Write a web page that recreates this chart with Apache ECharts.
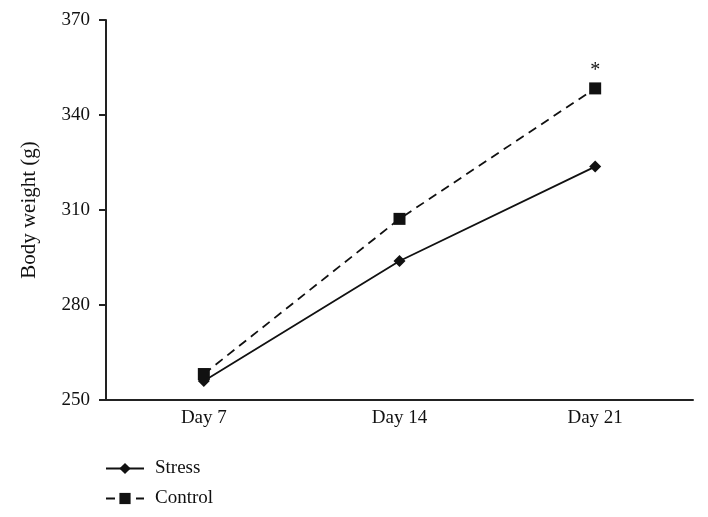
<!DOCTYPE html>
<html><head><meta charset="utf-8">
<script src="https://cdn.jsdelivr.net/npm/echarts@6/dist/echarts.min.js"></script>
<style>html,body{margin:0;padding:0;background:#fff}#c{width:708px;height:517px}</style>
</head><body><div id="c"></div>
<script>
const categories = ["Day 7", "Day 14", "Day 21"];
const stress = [256.0, 293.9, 323.7];
const control = [258.2, 307.2, 348.4];
const controlLabels = ["", "", "*"];
const yTicks = [250, 280, 310, 340, 370];

const font = "'Liberation Serif', 'DejaVu Serif', serif";
const chart = echarts.init(document.getElementById('c'));
chart.setOption({
  animation: false,
  textStyle: { fontFamily: font },
  grid: { left: 106, right: 15, top: 20, bottom: 117 },
  legend: {
    orient: 'vertical', left: 100, top: 454, itemGap: 11,
    itemWidth: 38, itemHeight: 14,
    textStyle: { fontFamily: font, fontSize: 19, color: '#111', padding: [0, 0, 0, 6] },
    data: ['Stress', 'Control']
  },
  xAxis: {
    type: 'category', data: categories, boundaryGap: true,
    axisLine: { lineStyle: { color: '#222', width: 2 } },
    axisTick: { show: false },
    axisLabel: { color: '#111', fontSize: 19, fontFamily: font, margin: 9 }
  },
  yAxis: {
    type: 'value', min: yTicks[0], max: yTicks[yTicks.length - 1], interval: 30,
    name: 'Body weight (g)', nameLocation: 'middle', nameGap: 66,
    nameTextStyle: { color: '#111', fontSize: 21, fontFamily: font },
    axisLine: { show: true, lineStyle: { color: '#222', width: 2 } },
    axisTick: { show: true, length: 7, lineStyle: { color: '#222', width: 2 } },
    axisLabel: { color: '#111', fontSize: 19, fontFamily: font, margin: 16 },
    splitLine: { show: false }
  },
  series: [
    {
      name: 'Stress', type: 'line', data: stress,
      symbol: 'diamond', symbolSize: 12,
      lineStyle: { color: '#111', width: 1.8, type: 'solid' },
      itemStyle: { color: '#111' }
    },
    {
      name: 'Control', type: 'line', data: control.map((v, i) => ({
        value: v,
        label: { show: controlLabels[i] !== '', formatter: controlLabels[i], position: 'top', fontSize: 20, color: '#111', fontFamily: font, distance: 2 }
      })),
      symbol: 'rect', symbolSize: 12,
      lineStyle: { color: '#111', width: 1.8, type: [9, 6] },
      itemStyle: { color: '#111' }
    }
  ]
});
</script></body></html>
